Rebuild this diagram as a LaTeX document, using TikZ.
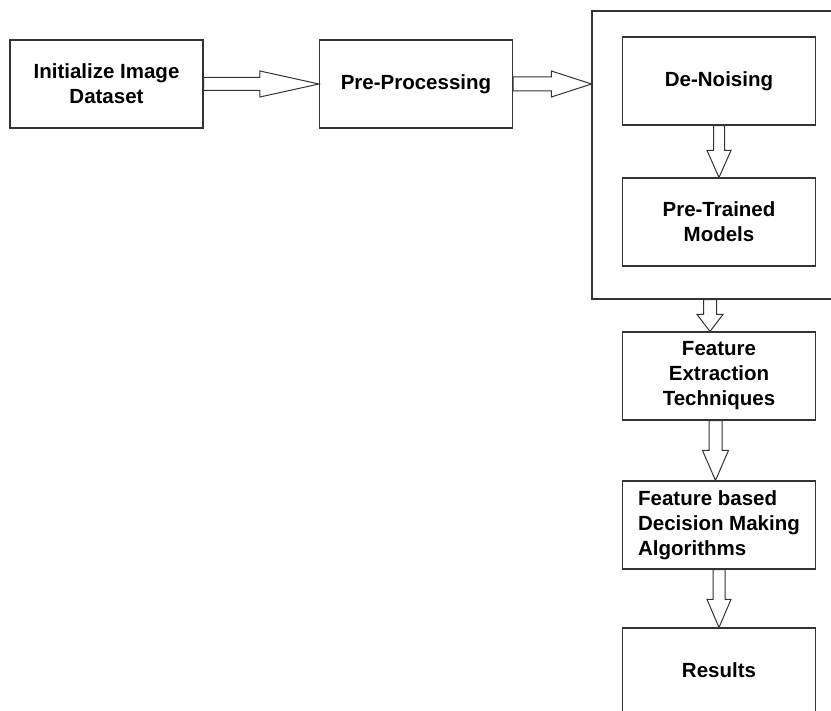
\documentclass[tikz,border=0pt]{standalone}
\usepackage{fontspec}
\setmainfont{Liberation Sans}
\usetikzlibrary{positioning,calc}

\begin{document}
\begin{tikzpicture}[x=1pt,y=-1pt]
		\tikzset{box/.style = {draw=black!80,line width=1.1pt,minimum width=193pt,minimum height=88pt,
			font=\fontsize{20.5}{25}\selectfont\bfseries,align=center,inner sep=0pt}}
		\tikzset{hblock/.style n args = {3}{draw=black!80,line width=1pt,line join=miter,
			to path={let \p1=(\tikztostart), \p2=(\tikztotarget) in
				([yshift=#1]\p1) -- ([xshift=-#3,yshift=#1]\p2) -- ([xshift=-#3,yshift=#2]\p2) -- (\p2)
				-- ([xshift=-#3,yshift=-#2]\p2) -- ([xshift=-#3,yshift=-#1]\p2) -- ([yshift=-#1]\p1) -- cycle}}}
		\tikzset{vblock/.style n args = {3}{draw=black!80,line width=1pt,line join=miter,
			to path={let \p1=(\tikztostart), \p2=(\tikztotarget) in
				([xshift=#1]\p1) -- ([xshift=#1,yshift=#3]\p2) -- ([xshift=#2,yshift=#3]\p2) -- (\p2)
				-- ([xshift=-#2,yshift=#3]\p2) -- ([xshift=-#1,yshift=#3]\p2) -- ([xshift=-#1]\p1) -- cycle}}}

		\useasboundingbox (0,0) rectangle (831,711);
		\clip (0,0) rectangle (831,711);

		% first row
		\node[box] (init) at (106.5,84) {Initialize Image\\Dataset};
		\node[box] (prep) at (416,84) {\raisebox{-3pt}{Pre-Processing}};

		% frame around de-noising and models
		\node[draw=black!80,line width=1.1pt,minimum width=260pt,minimum height=288pt] (frame) at (722,155) {};
		\node[box] (denoise) at (719,81) {De-Noising};
		\node[box] (pretrained) at (719,222) {Pre-Trained\\Models};

		% column below the frame
		\node[box] (feat) at (719,376) {Feature\\Extraction\\Techniques};
		\node[box,align=left] (decide) at (719,525) {Feature based\\Decision Making\\Algorithms};
		\node[box] (results) at (719,672) {\raisebox{4pt}{Results}};

		% block arrows
		\draw[hblock={6.5pt}{13pt}{59pt}] (init.east) to (prep.west);
		\draw[hblock={7pt}{13pt}{40pt}] (prep.east) to (prep.east -| frame.west);
		\draw[vblock={5.5pt}{12pt}{27pt}] (denoise.south) to (pretrained.north);
		\draw[vblock={6.5pt}{13pt}{17pt}] ([xshift=-9pt]feat.north |- frame.south) to ([xshift=-9pt]feat.north);
		\draw[vblock={6.5pt}{13pt}{30pt}] ([xshift=-3.5pt]feat.south) to ([xshift=-3.5pt]decide.north);
		\draw[vblock={6pt}{12pt}{28pt}] (decide.south) to (results.north);
	\end{tikzpicture}
\end{document}
